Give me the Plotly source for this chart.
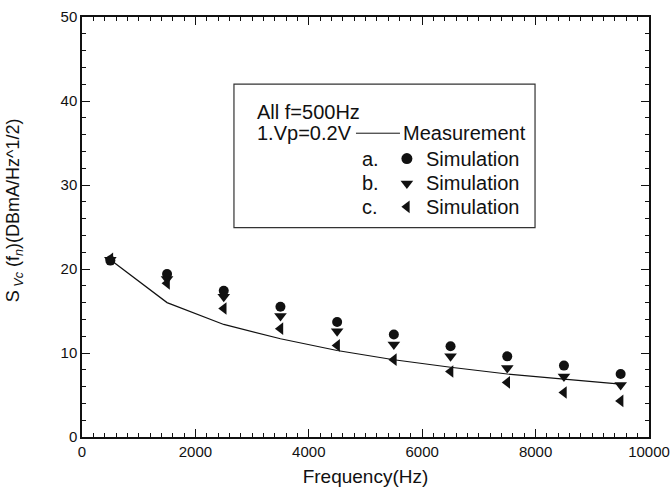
import plotly.graph_objects as go

# ---- data ----
freq = [500, 1500, 2500, 3500, 4500, 5500, 6500, 7500, 8500, 9500]
measurement = [21.1, 16.0, 13.4, 11.7, 10.3, 9.2, 8.3, 7.5, 6.9, 6.3]
sim_a = [21.0, 19.4, 17.4, 15.5, 13.7, 12.2, 10.8, 9.6, 8.5, 7.5]
sim_b = [21.1, 18.8, 16.7, 14.4, 12.6, 11.0, 9.6, 8.2, 7.2, 6.2]
sim_c = [21.2, 18.3, 15.3, 12.9, 10.9, 9.2, 7.8, 6.5, 5.3, 4.3]

x_ticks = [0, 2000, 4000, 6000, 8000, 10000]
y_ticks = [0, 10, 20, 30, 40, 50]

FONT = "Liberation Sans, Arial, Helvetica, sans-serif"
BLACK = "#111111"

fig = go.Figure()

fig.add_trace(go.Scatter(x=freq, y=measurement, mode="lines",
                         line=dict(color=BLACK, width=1.2), showlegend=False))
fig.add_trace(go.Scatter(x=freq, y=sim_a, mode="markers",
                         marker=dict(symbol="circle", size=10, color=BLACK), showlegend=False))
fig.add_trace(go.Scatter(x=freq, y=sim_b, mode="markers",
                         marker=dict(symbol="triangle-down", size=11, color=BLACK), showlegend=False))
fig.add_trace(go.Scatter(x=freq, y=sim_c, mode="markers",
                         marker=dict(symbol="triangle-left", size=11, color=BLACK), showlegend=False))

# ---- legend drawn inside the plot (overlay axes 0..1) ----
leg_row_y = [0.663, 0.6036, 0.548]
leg_sym = ["circle", "triangle-down", "triangle-left"]
leg_lab = ["a.", "b.", "c."]
for yy, sym in zip(leg_row_y, leg_sym):
    fig.add_trace(go.Scatter(x=[0.573], y=[yy], mode="markers", xaxis="x2", yaxis="y2",
                             marker=dict(symbol=sym, size=11, color=BLACK), showlegend=False))
fig.add_trace(go.Scatter(x=[0.4832, 0.5608], y=[0.7233, 0.7233], mode="lines",
                         xaxis="x2", yaxis="y2", line=dict(color=BLACK, width=1), showlegend=False))

fig.add_shape(type="rect", xref="paper", yref="paper", x0=0.268, x1=0.799, y0=0.4985, y1=0.840,
              line=dict(color="#333333", width=1.2), fillcolor="rgba(0,0,0,0)")

ann_font = dict(family=FONT, size=20, color=BLACK)
anns = [
    dict(x=0.305, y=0.773, text="All f=500Hz"),
    dict(x=0.305, y=0.7233, text="1.Vp=0.2V"),
    dict(x=0.562, y=0.7233, text="Measurement"),
]
for yy, lab in zip(leg_row_y, leg_lab):
    anns.append(dict(x=0.4900, y=yy, text=lab))
    anns.append(dict(x=0.604, y=yy, text="Simulation"))
for a in anns:
    fig.add_annotation(xref="paper", yref="paper", xanchor="left", yanchor="middle",
                       showarrow=False, font=ann_font, **a)

# y axis title
fig.add_annotation(xref="paper", yref="paper", x=-0.12, y=0.54, xanchor="center", yanchor="middle",
                   textangle=-90, showarrow=False,
                   text="S<sub> <i>Vc</i></sub> (f<sub><i>n</i></sub>)(DBmA/Hz^1/2)",
                   font=dict(family=FONT, size=18, color=BLACK))

axis_common = dict(showgrid=False, zeroline=False, showline=True, linecolor=BLACK, linewidth=1.5,
                   mirror="allticks", ticks="inside", ticklen=8, tickwidth=1.2, tickcolor=BLACK,
                   automargin=False, ticklabeloverflow="allow",
                   tickfont=dict(family=FONT, size=15, color=BLACK))

fig.update_layout(
    width=671, height=495,
    margin=dict(l=82, r=22, t=17, b=58),
    paper_bgcolor="white", plot_bgcolor="white",
    showlegend=False,
    font=dict(family=FONT, color=BLACK),
    xaxis=dict(range=[0, 10000], tickvals=x_ticks, ticktext=[str(v) for v in x_ticks],
               minor=dict(dtick=200, ticks="inside", ticklen=4, tickcolor=BLACK, tickwidth=1),
               title=dict(text="Frequency(Hz)", font=dict(family=FONT, size=19, color=BLACK), standoff=11),
               **axis_common),
    yaxis=dict(range=[0, 50], tickvals=y_ticks, ticktext=[str(v) for v in y_ticks],
               minor=dict(dtick=2, ticks="inside", ticklen=4, tickcolor=BLACK, tickwidth=1),
               **axis_common),
    xaxis2=dict(overlaying="x", range=[0, 1], visible=False),
    yaxis2=dict(overlaying="y", range=[0, 1], visible=False),
)

# remove the browser's default 8px page margin so the figure fills the window
fig.write_html("out.html", config={"displayModeBar": False},
               post_script="document.body.style.margin='0';document.body.style.overflow='hidden';")
